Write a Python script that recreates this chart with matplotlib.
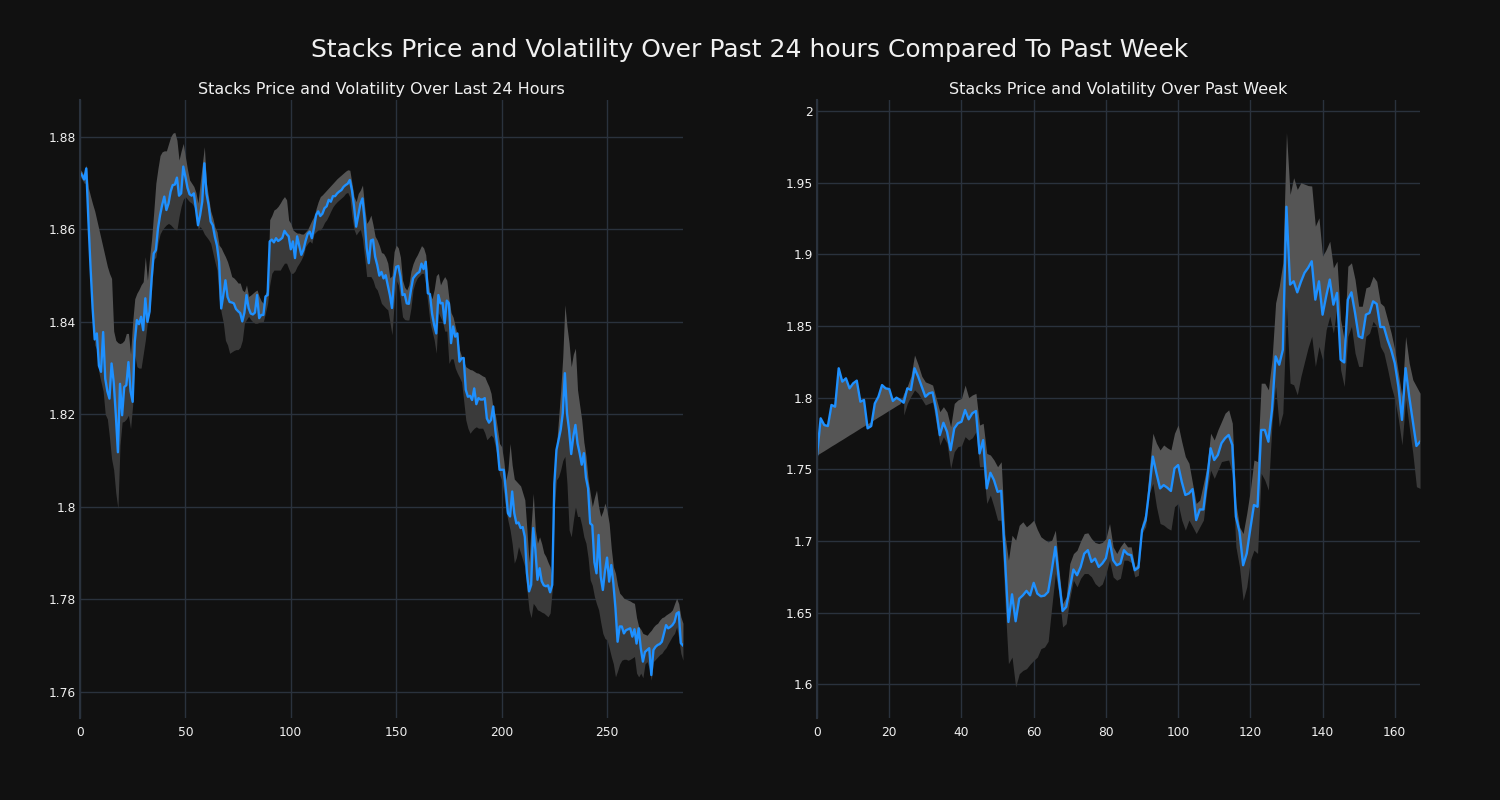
import matplotlib
matplotlib.use('Agg')
import matplotlib.pyplot as plt
from matplotlib.ticker import FuncFormatter
import numpy as np

# Colours
BG = '#111111'
GRID = '#2a323d'
LINE = '#1e90ff'
LIGHT = '#555555'
DARK = '#3a3a3a'
TEXT = '#f0f0f0'

# Last 24 hours (5 minute steps)
day_price = [
    1.8723, 1.8717, 1.8708, 1.8732, 1.8620, 1.8520, 1.8430, 1.8362, 1.8375, 1.8305,
    1.8292, 1.8378, 1.8277, 1.8250, 1.8234, 1.8310, 1.8270, 1.8200, 1.8118, 1.8266,
    1.8198, 1.8259, 1.8263, 1.8313, 1.8250, 1.8227, 1.8357, 1.8404, 1.8395, 1.8411,
    1.8382, 1.8451, 1.8400, 1.8422, 1.8494, 1.8548, 1.8555, 1.8602, 1.8631, 1.8653,
    1.8671, 1.8642, 1.8656, 1.8682, 1.8696, 1.8697, 1.8712, 1.8673, 1.8678, 1.8736,
    1.8714, 1.8690, 1.8676, 1.8673, 1.8678, 1.8645, 1.8609, 1.8631, 1.8660, 1.8743,
    1.8678, 1.8653, 1.8617, 1.8609, 1.8584, 1.8565, 1.8530, 1.8429, 1.8458, 1.8490,
    1.8454, 1.8443, 1.8442, 1.8440, 1.8428, 1.8423, 1.8419, 1.8401, 1.8420, 1.8458,
    1.8430, 1.8418, 1.8416, 1.8420, 1.8458, 1.8408, 1.8415, 1.8415, 1.8455, 1.8458,
    1.8574, 1.8578, 1.8572, 1.8581, 1.8575, 1.8578, 1.8582, 1.8597, 1.8590, 1.8585,
    1.8557, 1.8574, 1.8538, 1.8585, 1.8565, 1.8545, 1.8556, 1.8575, 1.8590, 1.8595,
    1.8581, 1.8603, 1.8631, 1.8639, 1.8629, 1.8634, 1.8646, 1.8650, 1.8664, 1.8660,
    1.8672, 1.8672, 1.8678, 1.8682, 1.8685, 1.8692, 1.8696, 1.8699, 1.8707, 1.8685,
    1.8650, 1.8606, 1.8630, 1.8655, 1.8667, 1.8620, 1.8560, 1.8527, 1.8576, 1.8578,
    1.8541, 1.8523, 1.8500, 1.8508, 1.8494, 1.8501, 1.8480, 1.8458, 1.8430, 1.8494,
    1.8519, 1.8521, 1.8498, 1.8458, 1.8460, 1.8440, 1.8439, 1.8469, 1.8494, 1.8500,
    1.8505, 1.8508, 1.8526, 1.8514, 1.8530, 1.8462, 1.8460, 1.8418, 1.8393, 1.8375,
    1.8458, 1.8440, 1.8441, 1.8397, 1.8446, 1.8440, 1.8354, 1.8390, 1.8368, 1.8375,
    1.8314, 1.8321, 1.8322, 1.8253, 1.8238, 1.8240, 1.8231, 1.8256, 1.8222, 1.8235,
    1.8232, 1.8232, 1.8235, 1.8191, 1.8182, 1.8188, 1.8217, 1.8166, 1.8130, 1.8080,
    1.8080, 1.8080, 1.8036, 1.7986, 1.7979, 1.8033, 1.7986, 1.7964, 1.7966, 1.7954,
    1.7956, 1.7935, 1.7856, 1.7817, 1.7831, 1.7954, 1.7907, 1.7842, 1.7867, 1.7839,
    1.7830, 1.7828, 1.7830, 1.7815, 1.7831, 1.8050, 1.8123, 1.8145, 1.8166, 1.8202,
    1.8289, 1.8202, 1.8166, 1.8114, 1.8152, 1.8177, 1.8137, 1.8116, 1.8091, 1.8116,
    1.8063, 1.8040, 1.7964, 1.7960, 1.7880, 1.7856, 1.7939, 1.7849, 1.7820, 1.7860,
    1.7890, 1.7838, 1.7874, 1.7834, 1.7780, 1.7708, 1.7741, 1.7741, 1.7726, 1.7733,
    1.7735, 1.7737, 1.7719, 1.7735, 1.7704, 1.7737, 1.7694, 1.7665, 1.7686, 1.7690,
    1.7694, 1.7636, 1.7690, 1.7697, 1.7701, 1.7703, 1.7708, 1.7726, 1.7744, 1.7737,
    1.7740, 1.7744, 1.7751, 1.7769, 1.7772, 1.7705, 1.7700,
]

day_high = [
    1.8730, 1.8725, 1.8715, 1.8740, 1.8690, 1.8672, 1.8655, 1.8640, 1.8620, 1.8600,
    1.8580, 1.8560, 1.8540, 1.8520, 1.8505, 1.8494, 1.8380, 1.8360, 1.8355, 1.8353,
    1.8355, 1.8360, 1.8375, 1.8375, 1.8330, 1.8400, 1.8450, 1.8462, 1.8470, 1.8480,
    1.8487, 1.8541, 1.8490, 1.8537, 1.8580, 1.8638, 1.8700, 1.8732, 1.8760, 1.8768,
    1.8770, 1.8770, 1.8785, 1.8800, 1.8808, 1.8810, 1.8793, 1.8750, 1.8770, 1.8786,
    1.8757, 1.8730, 1.8707, 1.8700, 1.8693, 1.8680, 1.8657, 1.8700, 1.8740, 1.8779,
    1.8700, 1.8670, 1.8640, 1.8625, 1.8605, 1.8595, 1.8566, 1.8560, 1.8550, 1.8541,
    1.8530, 1.8515, 1.8498, 1.8495, 1.8490, 1.8484, 1.8484, 1.8469, 1.8465, 1.8480,
    1.8455, 1.8458, 1.8462, 1.8466, 1.8469, 1.8455, 1.8445, 1.8440, 1.8462, 1.8469,
    1.8621, 1.8630, 1.8642, 1.8645, 1.8650, 1.8657, 1.8665, 1.8671, 1.8664, 1.8620,
    1.8613, 1.8599, 1.8595, 1.8592, 1.8592, 1.8590, 1.8590, 1.8595, 1.8600, 1.8610,
    1.8620, 1.8628, 1.8645, 1.8660, 1.8671, 1.8675, 1.8680, 1.8685, 1.8690, 1.8695,
    1.8700, 1.8705, 1.8710, 1.8714, 1.8718, 1.8722, 1.8726, 1.8729, 1.8728, 1.8700,
    1.8671, 1.8660, 1.8678, 1.8685, 1.8696, 1.8650, 1.8613, 1.8620, 1.8631, 1.8610,
    1.8585, 1.8577, 1.8565, 1.8550, 1.8548, 1.8540, 1.8527, 1.8495, 1.8500, 1.8552,
    1.8566, 1.8560, 1.8540, 1.8490, 1.8475, 1.8469, 1.8480, 1.8510, 1.8526, 1.8537,
    1.8545, 1.8555, 1.8565, 1.8560, 1.8545, 1.8490, 1.8460, 1.8450, 1.8470, 1.8500,
    1.8505, 1.8480, 1.8490, 1.8498, 1.8490, 1.8450, 1.8420, 1.8410, 1.8390, 1.8370,
    1.8340, 1.8325, 1.8315, 1.8303, 1.8300, 1.8297, 1.8296, 1.8293, 1.8290, 1.8289,
    1.8286, 1.8283, 1.8281, 1.8270, 1.8260, 1.8245, 1.8210, 1.8200, 1.8170, 1.8137,
    1.8130, 1.8100, 1.8058, 1.8080, 1.8137, 1.8090, 1.8060, 1.8055, 1.8050, 1.8045,
    1.8030, 1.8015, 1.7950, 1.7880, 1.7960, 1.8029, 1.7950, 1.7921, 1.7935, 1.7920,
    1.7900, 1.7892, 1.7880, 1.7870, 1.7842, 1.8058, 1.8130, 1.8190, 1.8250, 1.8325,
    1.8437, 1.8390, 1.8354, 1.8303, 1.8330, 1.8343, 1.8253, 1.8220, 1.8188, 1.8140,
    1.8110, 1.8060, 1.8030, 1.8000, 1.8020, 1.8036, 1.8000, 1.7979, 1.7990, 1.8008,
    1.7990, 1.7964, 1.7910, 1.7870, 1.7856, 1.7830, 1.7813, 1.7808, 1.7802, 1.7800,
    1.7798, 1.7796, 1.7793, 1.7791, 1.7760, 1.7741, 1.7735, 1.7726, 1.7724, 1.7722,
    1.7728, 1.7733, 1.7740, 1.7745, 1.7748, 1.7755, 1.7760, 1.7762, 1.7766, 1.7769,
    1.7772, 1.7777, 1.7790, 1.7802, 1.7790, 1.7762, 1.7748,
]

day_low = [
    1.8715, 1.8708, 1.8700, 1.8700, 1.8610, 1.8505, 1.8420, 1.8350, 1.8340, 1.8290,
    1.8270, 1.8250, 1.8200, 1.8190, 1.8150, 1.8104, 1.8080, 1.8030, 1.7996, 1.8133,
    1.8183, 1.8185, 1.8190, 1.8198, 1.8169, 1.8220, 1.8328, 1.8303, 1.8300, 1.8300,
    1.8330, 1.8360, 1.8400, 1.8420, 1.8470, 1.8535, 1.8540, 1.8570, 1.8590, 1.8599,
    1.8605, 1.8610, 1.8613, 1.8610, 1.8605, 1.8600, 1.8599, 1.8628, 1.8650, 1.8665,
    1.8671, 1.8665, 1.8660, 1.8657, 1.8650, 1.8642, 1.8600, 1.8606, 1.8600, 1.8590,
    1.8584, 1.8578, 1.8570, 1.8550, 1.8530, 1.8512, 1.8450, 1.8420, 1.8398, 1.8360,
    1.8350, 1.8332, 1.8335, 1.8338, 1.8340, 1.8340, 1.8345, 1.8360, 1.8397, 1.8405,
    1.8412, 1.8405, 1.8400, 1.8397, 1.8397, 1.8399, 1.8400, 1.8401, 1.8420, 1.8440,
    1.8480, 1.8505, 1.8512, 1.8512, 1.8512, 1.8512, 1.8520, 1.8527, 1.8527, 1.8515,
    1.8505, 1.8505, 1.8510, 1.8520, 1.8527, 1.8535, 1.8545, 1.8563, 1.8570, 1.8575,
    1.8570, 1.8590, 1.8595, 1.8599, 1.8599, 1.8605, 1.8615, 1.8621, 1.8630, 1.8640,
    1.8649, 1.8655, 1.8660, 1.8664, 1.8668, 1.8672, 1.8678, 1.8680, 1.8670, 1.8628,
    1.8600, 1.8588, 1.8595, 1.8600, 1.8580, 1.8540, 1.8498, 1.8498, 1.8498, 1.8490,
    1.8475, 1.8469, 1.8455, 1.8440, 1.8435, 1.8430, 1.8426, 1.8400, 1.8372, 1.8440,
    1.8490, 1.8480, 1.8450, 1.8411, 1.8405, 1.8404, 1.8404, 1.8430, 1.8470, 1.8485,
    1.8495, 1.8500, 1.8505, 1.8505, 1.8480, 1.8440, 1.8400, 1.8380, 1.8361, 1.8332,
    1.8420, 1.8410, 1.8400, 1.8380, 1.8380, 1.8310, 1.8320, 1.8320, 1.8300, 1.8289,
    1.8280, 1.8270, 1.8230, 1.8188, 1.8170, 1.8159, 1.8165, 1.8170, 1.8173, 1.8170,
    1.8170, 1.8170, 1.8160, 1.8145, 1.8150, 1.8155, 1.8150, 1.8130, 1.8108, 1.8070,
    1.8058, 1.8030, 1.7993, 1.7970, 1.7950, 1.7920, 1.7878, 1.7890, 1.7914, 1.7900,
    1.7885, 1.7870, 1.7820, 1.7777, 1.7760, 1.7791, 1.7785, 1.7777, 1.7775, 1.7772,
    1.7770, 1.7766, 1.7762, 1.7770, 1.7820, 1.8000, 1.8058, 1.8065, 1.8080, 1.8100,
    1.8109, 1.8050, 1.7950, 1.7935, 1.7970, 1.8000, 1.7979, 1.7979, 1.7960, 1.7935,
    1.7921, 1.7890, 1.7842, 1.7830, 1.7806, 1.7790, 1.7777, 1.7750, 1.7726, 1.7715,
    1.7712, 1.7695, 1.7676, 1.7660, 1.7632, 1.7645, 1.7660, 1.7668, 1.7670, 1.7670,
    1.7668, 1.7670, 1.7673, 1.7676, 1.7640, 1.7632, 1.7640, 1.7630, 1.7660, 1.7665,
    1.7650, 1.7625, 1.7665, 1.7670, 1.7675, 1.7680, 1.7683, 1.7690, 1.7695, 1.7704,
    1.7712, 1.7720, 1.7726, 1.7740, 1.7715, 1.7683, 1.7668,
]

# Past week (hourly steps)
week_price = [
    1.7600, 1.7856, 1.7809, 1.7802, 1.7949, 1.7937, 1.8205, 1.8112, 1.8135, 1.8065,
    1.8100, 1.8119, 1.7972, 1.7984, 1.7786, 1.7802, 1.7960, 1.8007, 1.8088, 1.8065,
    1.8060, 1.7977, 1.8000, 1.7984, 1.7965, 1.8065, 1.8054, 1.8205, 1.8147, 1.8077,
    1.8007, 1.8030, 1.8037, 1.7914, 1.7739, 1.7825, 1.7762, 1.7634, 1.7786, 1.7821,
    1.7832, 1.7914, 1.7849, 1.7891, 1.7907, 1.7611, 1.7704, 1.7367, 1.7476, 1.7425,
    1.7343, 1.7350, 1.6900, 1.6435, 1.6628, 1.6440, 1.6598, 1.6621, 1.6652, 1.6621,
    1.6708, 1.6633, 1.6614, 1.6619, 1.6645, 1.6796, 1.6959, 1.6726, 1.6512, 1.6540,
    1.6668, 1.6801, 1.6761, 1.6819, 1.6912, 1.6936, 1.6854, 1.6877, 1.6819, 1.6843,
    1.6880, 1.7006, 1.6866, 1.6831, 1.6843, 1.6936, 1.6908, 1.6901, 1.6796, 1.6815,
    1.7076, 1.7146, 1.7355, 1.7589, 1.7472, 1.7367, 1.7390, 1.7372, 1.7349, 1.7507,
    1.7530, 1.7414, 1.7321, 1.7332, 1.7362, 1.7146, 1.7220, 1.7220, 1.7425, 1.7647,
    1.7565, 1.7600, 1.7682, 1.7717, 1.7740, 1.7670, 1.7169, 1.7064, 1.6831, 1.6913,
    1.7087, 1.7251, 1.7239, 1.7775, 1.7775, 1.7693, 1.7915, 1.8288, 1.8230, 1.8334,
    1.9332, 1.8789, 1.8812, 1.8735, 1.8808, 1.8871, 1.8906, 1.8952, 1.8684, 1.8812,
    1.8579, 1.8707, 1.8824, 1.8649, 1.8731, 1.8265, 1.8246, 1.8684, 1.8735, 1.8591,
    1.8428, 1.8416, 1.8579, 1.8591, 1.8672, 1.8654, 1.8493, 1.8493, 1.8404, 1.8334,
    1.8241, 1.8078, 1.7845, 1.8206, 1.8007, 1.7833, 1.7663, 1.7693,
]

week_high = [
    1.7600, 1.7616, 1.7631, 1.7647, 1.7663, 1.7678, 1.7694, 1.7709, 1.7725, 1.7741,
    1.7756, 1.7772, 1.7788, 1.7803, 1.7819, 1.7834, 1.7850, 1.7866, 1.7881, 1.7897,
    1.7913, 1.7928, 1.7944, 1.7959, 1.8030, 1.8080, 1.8150, 1.8298, 1.8230, 1.8150,
    1.8110, 1.8100, 1.8088, 1.7995, 1.7902, 1.7937, 1.7900, 1.7797, 1.7960, 1.7984,
    1.7995, 1.8088, 1.8000, 1.8019, 1.8030, 1.7809, 1.7821, 1.7611, 1.7600, 1.7565,
    1.7518, 1.7553, 1.7050, 1.6866, 1.7040, 1.7006, 1.7110, 1.7134, 1.7099, 1.7120,
    1.7145, 1.7080, 1.7029, 1.7010, 1.6994, 1.7006, 1.7075, 1.6800, 1.6563, 1.6610,
    1.6843, 1.6912, 1.6936, 1.7000, 1.7052, 1.7057, 1.7017, 1.6990, 1.6982, 1.6990,
    1.7017, 1.7122, 1.6959, 1.6913, 1.6960, 1.6994, 1.6959, 1.6959, 1.6819, 1.6843,
    1.7122, 1.7204, 1.7495, 1.7752, 1.7682, 1.7635, 1.7670, 1.7650, 1.7635, 1.7752,
    1.7810, 1.7693, 1.7589, 1.7542, 1.7400, 1.7262, 1.7286, 1.7400, 1.7519, 1.7752,
    1.7705, 1.7775, 1.7833, 1.7892, 1.7915, 1.7822, 1.7262, 1.7099, 1.7052, 1.7192,
    1.7355, 1.7565, 1.7554, 1.8101, 1.8101, 1.8055, 1.8265, 1.8661, 1.8777, 1.8941,
    1.9850, 1.9418, 1.9535, 1.9453, 1.9500, 1.9490, 1.9480, 1.9477, 1.9197, 1.9255,
    1.8987, 1.9034, 1.9092, 1.8906, 1.8952, 1.8544, 1.8404, 1.8917, 1.8941, 1.8824,
    1.8638, 1.8638, 1.8766, 1.8777, 1.8847, 1.8812, 1.8661, 1.8638, 1.8544, 1.8451,
    1.8334, 1.8171, 1.8008, 1.8428, 1.8241, 1.8125, 1.8078, 1.8031,
]

# no low band for the first day of the week
week_low = [np.nan] * 24 + [
    1.7879, 1.7960, 1.8010, 1.8054, 1.8030, 1.7990,
    1.7949, 1.7960, 1.7970, 1.7821, 1.7669, 1.7728, 1.7681, 1.7506, 1.7623, 1.7658,
    1.7665, 1.7728, 1.7704, 1.7720, 1.7762, 1.7518, 1.7518, 1.7262, 1.7320, 1.7238,
    1.7145, 1.7145, 1.6600, 1.6144, 1.6190, 1.5981, 1.6074, 1.6097, 1.6109, 1.6140,
    1.6167, 1.6190, 1.6249, 1.6260, 1.6300, 1.6540, 1.6773, 1.6633, 1.6400, 1.6423,
    1.6600, 1.6726, 1.6680, 1.6740, 1.6773, 1.6773, 1.6750, 1.6703, 1.6680, 1.6700,
    1.6773, 1.6866, 1.6749, 1.6726, 1.6740, 1.6866, 1.6866, 1.6850, 1.6749, 1.6761,
    1.7052, 1.7100, 1.7332, 1.7402, 1.7239, 1.7122, 1.7111, 1.7090, 1.7076, 1.7239,
    1.7262, 1.7146, 1.7076, 1.7146, 1.7100, 1.7052, 1.7099, 1.7146, 1.7355, 1.7495,
    1.7437, 1.7495, 1.7554, 1.7560, 1.7565, 1.7472, 1.6959, 1.6819, 1.6586, 1.6679,
    1.6866, 1.6936, 1.6913, 1.7472, 1.7425, 1.7355, 1.7822, 1.8078, 1.7798, 1.7892,
    1.8638, 1.8101, 1.8090, 1.8020, 1.8148, 1.8250, 1.8350, 1.8428, 1.8218, 1.8358,
    1.8265, 1.8474, 1.8568, 1.8451, 1.8638, 1.8195, 1.8078, 1.8428, 1.8498, 1.8311,
    1.8218, 1.8218, 1.8428, 1.8450, 1.8533, 1.8498, 1.8358, 1.8311, 1.8200, 1.8078,
    1.7990, 1.7850, 1.7670, 1.7985, 1.7798, 1.7612, 1.7379, 1.7367,
]


def draw_panel(ax, price, high, low, title, ylim):
    """Draw price line with its volatility band

    Args:
        ax (Axes): target axes
        price (list): price values
        high (list): upper edge of band
        low (list): lower edge of band
        title (str): panel title
        ylim (tuple): y range
    """

    x = np.arange(len(price))
    price = np.array(price, dtype=float)

    ax.set_facecolor(BG)
    ax.fill_between(x, price, np.array(high, dtype=float), color=LIGHT, linewidth=0)
    ax.fill_between(x, np.array(low, dtype=float), price, color=DARK, linewidth=0)
    ax.plot(x, price, color=LINE, linewidth=1.7)

    ax.set_xlim(0, len(price) - 1)
    ax.set_ylim(*ylim)
    ax.set_title(title, color=TEXT, fontsize=11.5, pad=4)

    # Grid and spines
    ax.grid(True, color=GRID, linewidth=1)
    ax.set_axisbelow(True)
    for side in ['top', 'right', 'bottom']:
        ax.spines[side].set_visible(False)
    ax.spines['left'].set_color(GRID)
    ax.spines['left'].set_linewidth(1.5)

    ax.yaxis.set_major_formatter(FuncFormatter(lambda v, p: '{:g}'.format(round(v, 4))))
    ax.tick_params(axis='y', length=0, pad=3, labelsize=8.8, labelcolor=TEXT)
    ax.tick_params(axis='x', length=0, pad=6, labelsize=8.8, labelcolor=TEXT)


fig = plt.figure(figsize=(15, 8), dpi=100, facecolor=BG)
fig.suptitle('Stacks Price and Volatility Over Past 24 hours Compared To Past Week',
             color=TEXT, fontsize=18, y=0.937, va='center')

ax_day = fig.add_axes([0.0533, 0.1025, 0.402, 0.7725])
ax_week = fig.add_axes([0.5447, 0.1025, 0.402, 0.7725])

draw_panel(ax_day, day_price, day_high, day_low,
           'Stacks Price and Volatility Over Last 24 Hours', (1.7543, 1.888))
draw_panel(ax_week, week_price, week_high, week_low,
           'Stacks Price and Volatility Over Past Week', (1.5765, 2.0077))

fig.savefig('out.png', dpi=100, facecolor=BG)
